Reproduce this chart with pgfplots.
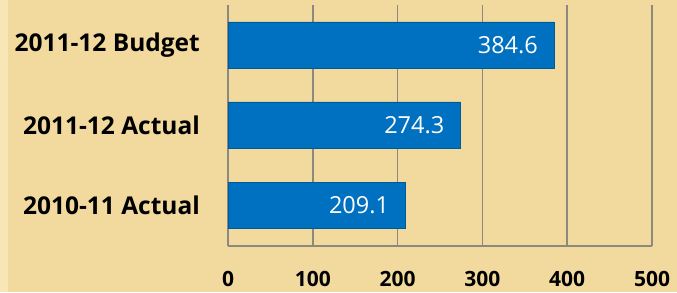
\documentclass[border=0pt]{standalone}
\usepackage{pgfplots}
\pgfplotsset{compat=1.18}
\usepackage{fontspec}
\setmainfont{Open Sans}
\definecolor{bg}{HTML}{F2DA9E}
\definecolor{bgl}{HTML}{F8E6B6}
\definecolor{barblue}{HTML}{0070C0}
\definecolor{gridc}{HTML}{8E897E}
\begin{document}
\begin{tikzpicture}[x=1pt,y=1pt]
\fill[bg] (0,0) rectangle (677,292);
\fill[bgl] (0,0) rectangle (8,292);
\begin{axis}[
  at={(228pt,46pt)}, anchor=south west,
  width=424pt, height=241pt, scale only axis,
  xmin=0, xmax=500, ymin=-0.5125, ymax=2.5,
  axis x line*=bottom, axis y line*=left,
  axis line style={gridc, line width=1.6pt, -},
  xmajorgrids, major grid style={gridc, line width=1.6pt},
  major tick length=0pt,
  xtick={0,100,200,300,400,500},
  xticklabels={0,100,200,300,400,500},
  ytick={0,1,2},
  yticklabels={2010-11 Actual,2011-12 Actual,2011-12 Budget},
  xticklabel style={font=\fontsize{21}{21}\selectfont\bfseries, anchor=north, inner sep=0pt, yshift=-25pt},
  yticklabel style={font=\fontsize{24.5}{24.5}\selectfont\bfseries, anchor=east, inner sep=0pt, xshift=-28pt},
  xbar, bar width=46pt,
  point meta=x,
  nodes near coords={\pgfmathprintnumber[fixed,precision=1,fixed zerofill]{\pgfplotspointmeta}},
  nodes near coords style={anchor=east, xshift=-16pt, text=white, inner sep=0pt, font=\fontsize{23.5}{23.5}\selectfont, /pgf/number format/assume math mode=true},
  clip=false,
]
\addplot[fill=barblue, draw=barblue!80!black, line width=0.6pt] coordinates {(209.1,0) (274.3,1) (384.6,2)};
\end{axis}
\end{tikzpicture}
\end{document}
